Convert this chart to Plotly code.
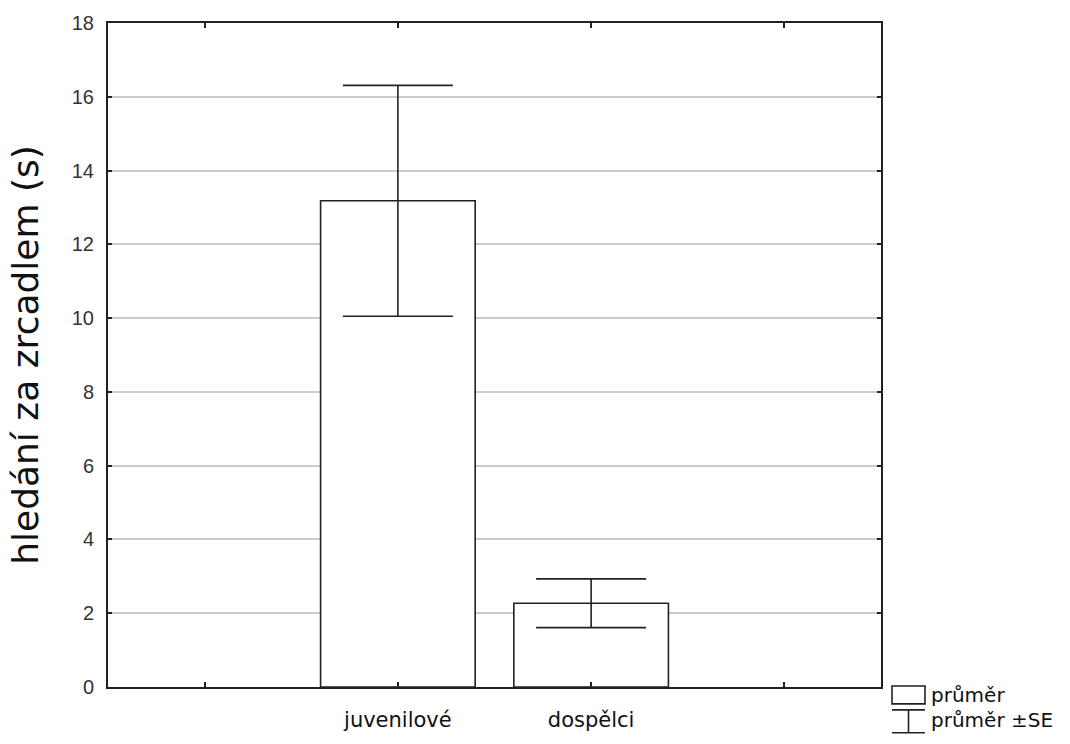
import plotly.graph_objects as go

# Data
categories = ["", "juvenilové", "dospělci", ""]
groups = ["juvenilové", "dospělci"]
means = [13.18, 2.27]
se = [3.13, 0.66]
y_ticks = [0, 2, 4, 6, 8, 10, 12, 14, 16, 18]

W, H = 1070, 744
L, R, T, B = 108, 189, 22, 55
pw, ph = W - L - R, H - T - B

def px(x):
    return (x - L) / pw

def py(y):
    return (H - B - y) / ph

slot_pos = [0.5, 1.5, 2.5, 3.5]
bar_x = [slot_pos[categories.index(g)] for g in groups]

fig = go.Figure()
fig.add_trace(go.Bar(
    x=bar_x, y=means, width=0.8,
    marker=dict(color="white", line=dict(color="#222", width=1.6)),
    error_y=dict(type="data", array=se, visible=True, color="#222",
                 thickness=1.6, width=55),
    showlegend=False,
))

fig.update_layout(
    width=W, height=H,
    margin=dict(l=L, r=R, t=T, b=B, pad=0),
    paper_bgcolor="white", plot_bgcolor="white",
    bargap=0.2,
    xaxis=dict(range=[0, 4], tickvals=slot_pos, ticktext=categories,
               ticks="inside", ticklen=5, tickcolor="#222", tickwidth=1.5,
               showline=True, linecolor="#222", linewidth=2, mirror="allticks",
               showgrid=False, zeroline=False, ticklabelstandoff=13,
               tickfont=dict(family="DejaVu Sans", size=21, color="#111")),
    yaxis=dict(range=[0, 18], tickvals=y_ticks,
               ticks="inside", ticklen=4, tickcolor="#222", tickwidth=1.5,
               showline=True, linecolor="#222", linewidth=2, mirror="allticks",
               showgrid=True, gridcolor="#cccccc", gridwidth=1.5, zeroline=False,
               ticklabelstandoff=8,
               tickfont=dict(family="Liberation Sans, Arial", size=20, color="#333"),
               title=dict(text="hledání za zrcadlem (s)", standoff=22,
                          font=dict(family="DejaVu Sans", size=36, color="#111"))),
)

# Legend (drawn manually)
line = dict(color="#222", width=1.6)
fig.add_shape(type="rect", xref="paper", yref="paper",
              x0=px(892), x1=px(925), y0=py(706), y1=py(688), line=line,
              fillcolor="white")
fig.add_shape(type="line", xref="paper", yref="paper",
              x0=px(892), x1=px(925), y0=py(712), y1=py(712), line=line)
fig.add_shape(type="line", xref="paper", yref="paper",
              x0=px(892), x1=px(925), y0=py(735), y1=py(735), line=line)
fig.add_shape(type="line", xref="paper", yref="paper",
              x0=px(908.5), x1=px(908.5), y0=py(712), y1=py(735), line=line)
fig.add_annotation(xref="paper", yref="paper", x=px(929), y=py(697),
                   text="průměr", showarrow=False, xanchor="left", yanchor="middle",
                   font=dict(family="DejaVu Sans", size=20, color="#111"))
fig.add_annotation(xref="paper", yref="paper", x=px(929), y=py(722),
                   text="průměr ±SE", showarrow=False, xanchor="left", yanchor="middle",
                   font=dict(family="DejaVu Sans", size=20, color="#111"))

fig.write_html("out.html", config={"displayModeBar": False},
               post_script="document.body.style.margin='0';")
